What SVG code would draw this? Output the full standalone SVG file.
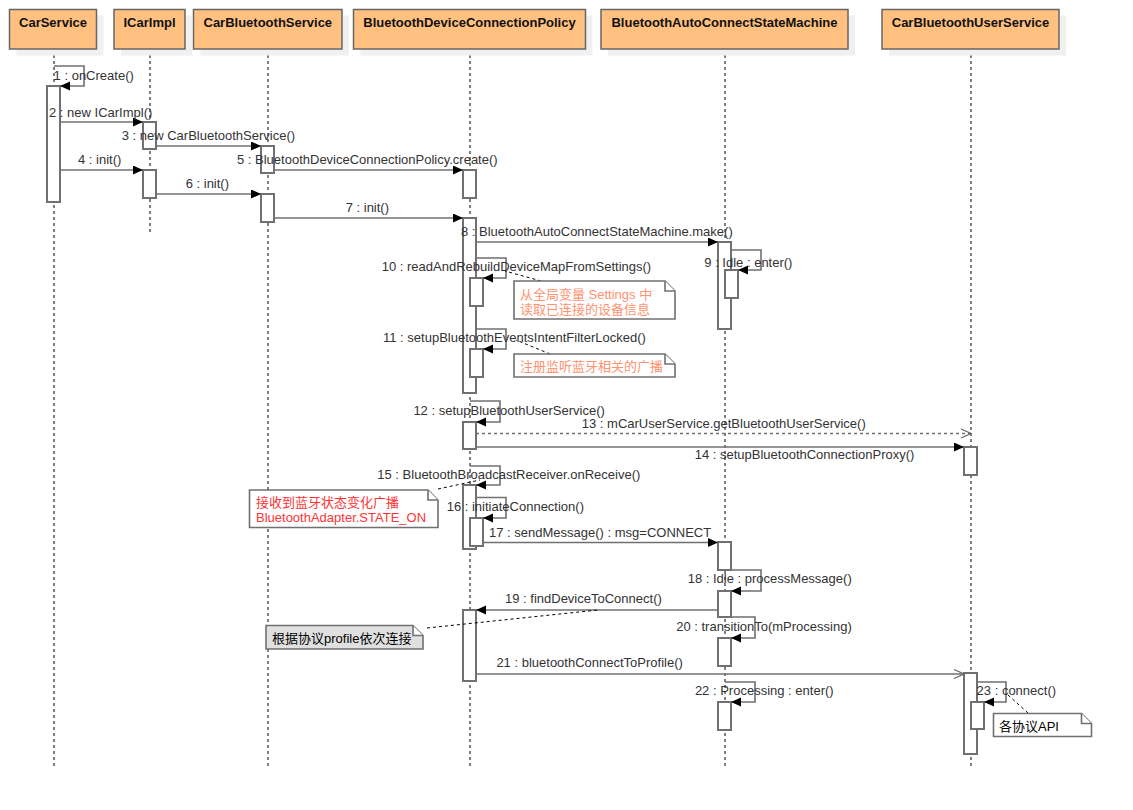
<svg xmlns="http://www.w3.org/2000/svg" width="1133" height="810" viewBox="0 0 1133 810">
<style>
.hd{fill:#FFC080;stroke:#666;stroke-width:1.5}
.sh{fill:#F0F0F0}
.ht{font-family:"Liberation Sans",Arial,sans-serif;font-size:13px;font-weight:bold;fill:#111;text-anchor:middle}
.ll{stroke:#000;stroke-width:1;stroke-dasharray:3,3;fill:none}
.act{fill:#fff;stroke:#707070;stroke-width:2}
.m{stroke:#707070;stroke-width:1.6;fill:none}
.mf{marker-end:url(#f)}
.mo{marker-end:url(#o)}
.dm{stroke-dasharray:3,3}
.t{font-family:"Liberation Sans",Arial,sans-serif;font-size:13px;fill:#333}
.note{fill:#fff;stroke:#707070;stroke-width:1.6}
.nl{stroke:#000;stroke-width:1;stroke-dasharray:3,3;fill:none}
.nt{font-family:"Liberation Sans","Noto Sans CJK SC",sans-serif;font-size:13px}
</style>
<defs>
<marker id="f" markerWidth="11" markerHeight="10" refX="10" refY="4.5" orient="auto" markerUnits="userSpaceOnUse"><path d="M0,0 L10,4.5 L0,9 Z" fill="#000"/></marker>
<marker id="o" markerWidth="12" markerHeight="11" refX="10" refY="4.5" orient="auto" markerUnits="userSpaceOnUse" overflow="visible"><path d="M0,0 L10,4.5 L0,9" fill="none" stroke="#666" stroke-width="1.3"/></marker>
</defs>
<rect width="1133" height="810" fill="#fff"/>

<g id="lifelines">
<line class="ll" x1="54" y1="49" x2="54" y2="767"/>
<line class="ll" x1="150" y1="49" x2="150" y2="232"/>
<line class="ll" x1="268" y1="49" x2="268" y2="767"/>
<line class="ll" x1="470" y1="49" x2="470" y2="767"/>
<line class="ll" x1="725" y1="49" x2="725" y2="767"/>
<line class="ll" x1="971" y1="49" x2="971" y2="767"/>
</g>

<g id="CarService">
<rect class="sh" x="16.5" y="15.5" width="87" height="40"/>
<rect class="hd" x="9.5" y="9.5" width="87" height="39.5"/>
<text class="ht" x="53" y="27">CarService</text>
</g>
<g id="ICarImpl">
<rect class="sh" x="121" y="15.5" width="71" height="40"/>
<rect class="hd" x="114" y="9.5" width="71" height="39.5"/>
<text class="ht" x="149.5" y="27">ICarImpl</text>
</g>
<g id="CarBluetoothService">
<rect class="sh" x="200.5" y="15.5" width="148.5" height="40"/>
<rect class="hd" x="193.5" y="9.5" width="148.5" height="39.5"/>
<text class="ht" x="267.8" y="27">CarBluetoothService</text>
</g>
<g id="BluetoothDeviceConnectionPolicy">
<rect class="sh" x="360.5" y="15.5" width="232" height="40"/>
<rect class="hd" x="353.5" y="9.5" width="232" height="39.5"/>
<text class="ht" x="469.5" y="27">BluetoothDeviceConnectionPolicy</text>
</g>
<g id="BluetoothAutoConnectStateMachine">
<rect class="sh" x="608" y="15.5" width="247" height="40"/>
<rect class="hd" x="601" y="9.5" width="247" height="39.5"/>
<text class="ht" x="724.5" y="27">BluetoothAutoConnectStateMachine</text>
</g>
<g id="CarBluetoothUserService">
<rect class="sh" x="889" y="15.5" width="177" height="40"/>
<rect class="hd" x="882" y="9.5" width="177" height="39.5"/>
<text class="ht" x="970.5" y="27">CarBluetoothUserService</text>
</g>

<g id="activations">
<rect class="act" x="47" y="86" width="13" height="116"/>
<rect class="act" x="143" y="122" width="13" height="27"/>
<rect class="act" x="261" y="146" width="13" height="27"/>
<rect class="act" x="143" y="170" width="13" height="28"/>
<rect class="act" x="463" y="170" width="13" height="28"/>
<rect class="act" x="261" y="194" width="13" height="28"/>
<rect class="act" x="463" y="218" width="13" height="175"/>
<rect class="act" x="718" y="242" width="13" height="87"/>
<rect class="act" x="725" y="270" width="13" height="28"/>
<rect class="act" x="470" y="278" width="13" height="28"/>
<rect class="act" x="470" y="349" width="13" height="28"/>
<rect class="act" x="463" y="422" width="13" height="27"/>
<rect class="act" x="964" y="447" width="13" height="28"/>
<rect class="act" x="463" y="485" width="13" height="64"/>
<rect class="act" x="470" y="518" width="13" height="28"/>
<rect class="act" x="718" y="542" width="13" height="28"/>
<rect class="act" x="718" y="591" width="13" height="26"/>
<rect class="act" x="463" y="610" width="13" height="71"/>
<rect class="act" x="718" y="638" width="13" height="28"/>
<rect class="act" x="964" y="673" width="13" height="81"/>
<rect class="act" x="718" y="702" width="13" height="28"/>
<rect class="act" x="971" y="702" width="13" height="27"/>
</g>

<g id="connectors">
<path class="m mf" d="M54,66 H84 V86 H60"/>
<path class="m mf" d="M60,122 H143"/>
<path class="m mf" d="M156,146 H261"/>
<path class="m mf" d="M60,170 H143"/>
<path class="m mf" d="M274,170 H463"/>
<path class="m mf" d="M156,194 H261"/>
<path class="m mf" d="M274,218 H463"/>
<path class="m mf" d="M476,242 H718"/>
<path class="m mf" d="M731,250 H761 V270 H738"/>
<path class="m mf" d="M476,258 H506 V278 H483"/>
<path class="m mf" d="M476,329 H506 V349 H483"/>
<path class="m mf" d="M470,401 H500 V422 H476"/>
<path class="m mo dm" d="M476,433.5 H971"/>
<path class="m mf" d="M476,447 H964"/>
<path class="m mf" d="M470,466 H500 V485 H476"/>
<path class="m mf" d="M476,497.5 H506 V518 H483"/>
<path class="m mf" d="M483,542.5 H718"/>
<path class="m mf" d="M731,570 H761 V591 H731"/>
<path class="m mf" d="M718,610 H476"/>
<path class="m mf" d="M731,617 H755 V638 H731"/>
<path class="m mo" d="M476,674 H964"/>
<path class="m mf" d="M725,682 H755 V702 H731"/>
<path class="m mf" d="M977,682 H1006 V702 H984"/>
<line class="nl" x1="541" y1="281" x2="505" y2="271"/>
<line class="nl" x1="550" y1="354" x2="516" y2="340"/>
<line class="nl" x1="438" y1="489" x2="480" y2="480"/>
<line class="nl" x1="427" y1="628" x2="598" y2="610"/>
<line class="nl" x1="1028" y1="713" x2="1008" y2="695"/>
</g>

<g id="labels">
<text class="t" x="53.6" y="79.5">1 : onCreate()</text>
<text class="t" x="49" y="117">2 : new ICarImpl()</text>
<text class="t" x="121.7" y="140">3 : new CarBluetoothService()</text>
<text class="t" x="78" y="164">4 : init()</text>
<text class="t" x="237" y="164">5 : BluetoothDeviceConnectionPolicy.create()</text>
<text class="t" x="185.7" y="188">6 : init()</text>
<text class="t" x="345.7" y="212">7 : init()</text>
<text class="t" x="461" y="235.5">8 : BluetoothAutoConnectStateMachine.make()</text>
<text class="t" x="704.3" y="267">9 : Idle : enter()</text>
<text class="t" x="381.7" y="270.5">10 : readAndRebuildDeviceMapFromSettings()</text>
<text class="t" x="383" y="342">11 : setupBluetoothEventsIntentFilterLocked()</text>
<text class="t" x="413.4" y="415">12 : setupBluetoothUserService()</text>
<text class="t" x="581.8" y="428">13 : mCarUserService.getBluetoothUserService()</text>
<text class="t" x="694.7" y="459">14 : setupBluetoothConnectionProxy()</text>
<text class="t" x="377.3" y="478.5">15 : BluetoothBroadcastReceiver.onReceive()</text>
<text class="t" x="446.7" y="510.5">16 : initiateConnection()</text>
<text class="t" x="489" y="537">17 : sendMessage() : msg=CONNECT</text>
<text class="t" x="687.7" y="583">18 : Idle : processMessage()</text>
<text class="t" x="505" y="603">19 : findDeviceToConnect()</text>
<text class="t" x="676.2" y="631">20 : transitionTo(mProcessing)</text>
<text class="t" x="496.4" y="667">21 : bluetoothConnectToProfile()</text>
<text class="t" x="694.9" y="695">22 : Processing : enter()</text>
<text class="t" x="976.6" y="695">23 : connect()</text>
</g>

<g id="note1">
<path class="note" d="M514,281 H665 L675,291 V319 H514 Z"/>
<path class="note" d="M665,281 V291 H675" fill="none"/>
<text class="nt" x="520" y="298.5" fill="#FF9270">从全局变量 Settings 中</text>
<text class="nt" x="520" y="314" fill="#FF9270">读取已连接的设备信息</text>
</g>
<g id="note2">
<path class="note" d="M514,354 H665 L675,364 V377 H514 Z"/>
<path class="note" d="M665,354 V364 H675" fill="none"/>
<text class="nt" x="520" y="370.5" fill="#FF9270">注册监听蓝牙相关的广播</text>
</g>
<g id="note3">
<path class="note" d="M249.5,490 H428 L438,500 V527.5 H249.5 Z"/>
<path class="note" d="M428,490 V500 H438" fill="none"/>
<text class="nt" x="256" y="507" fill="#FF3333">接收到蓝牙状态变化广播</text>
<text class="nt" x="256" y="522" fill="#FF3333">BluetoothAdapter.STATE_ON</text>
</g>
<g id="note4">
<path class="note" d="M266,625.5 H413 L423,635.5 V649 H266 Z" style="fill:#E0E0E0"/>
<path class="note" d="M413,625.5 V635.5 H423" fill="none"/>
<text class="nt" x="272" y="643" fill="#000">根据协议profile依次连接</text>
</g>
<g id="note5">
<path class="note" d="M993.5,713.5 H1081.5 L1091.5,723.5 V736.5 H993.5 Z"/>
<path class="note" d="M1081.5,713.5 V723.5 H1091.5" fill="none"/>
<text class="nt" x="999" y="731" fill="#000">各协议API</text>
</g>
</svg>
